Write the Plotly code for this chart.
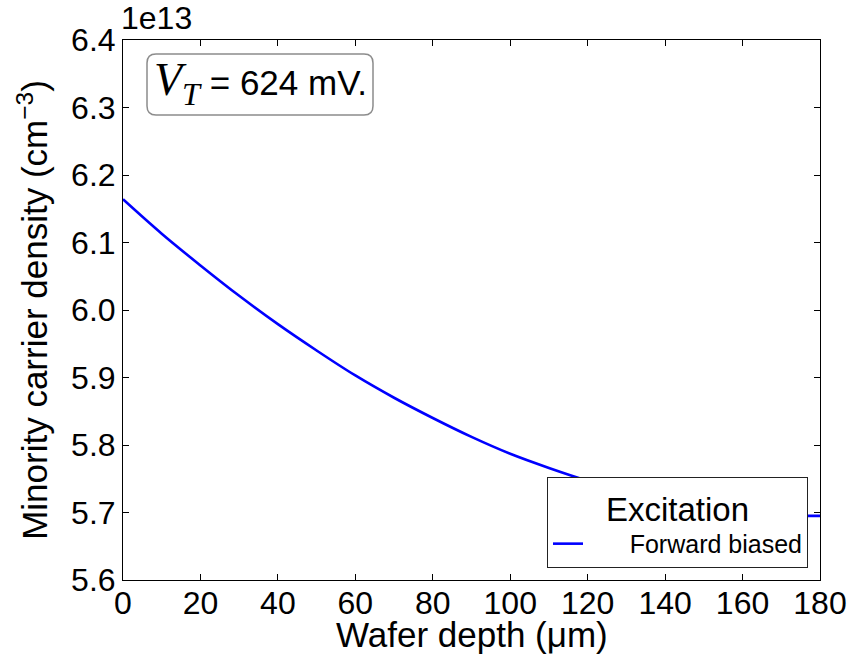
import plotly.graph_objects as go

# Data (y in units of 1e13 cm^-3)
depth_um = [0, 10, 20, 30, 40, 50, 60, 70, 80, 90, 100, 110, 120, 130, 140, 150, 160, 170, 180]
density_1e13 = [6.164, 6.113, 6.066, 6.021, 5.979, 5.940, 5.903, 5.870, 5.840, 5.812,
                5.787, 5.766, 5.747, 5.731, 5.718, 5.708, 5.701, 5.696, 5.695]
series_name = "Forward biased"
legend_title = "Excitation"
x_title = "Wafer depth (μm)"
y_title = "Minority carrier density (cm<sup>−3</sup>)"
x_ticks = [0, 20, 40, 60, 80, 100, 120, 140, 160, 180]
y_ticks = [5.6, 5.7, 5.8, 5.9, 6.0, 6.1, 6.2, 6.3, 6.4]

FONT = "Liberation Sans, Arial, sans-serif"

fig = go.Figure()
fig.add_trace(go.Scatter(
    x=depth_um, y=density_1e13, mode="lines",
    name="\u00a0" * 6 + series_name,
    line=dict(color="#0000ff", width=2.6, shape="spline"),
))

W, H = 862, 661
L, R, T, B = 123, 42, 40, 81
pw, ph = W - L - R, H - T - B

def px(xp):
    return (xp - L) / pw

def py(yp):
    return (H - B - yp) / ph

# rounded box for V_T annotation
x0, x1, y0, y1 = px(147), px(373), py(115), py(54)
rx, ry = 9 / pw, 9 / ph
path = (f"M {x0+rx},{y0} L {x1-rx},{y0} Q {x1},{y0} {x1},{y0+ry} "
        f"L {x1},{y1-ry} Q {x1},{y1} {x1-rx},{y1} L {x0+rx},{y1} "
        f"Q {x0},{y1} {x0},{y1-ry} L {x0},{y0+ry} Q {x0},{y0} {x0+rx},{y0} Z")
fig.add_shape(type="path", path=path, xref="paper", yref="paper",
              line=dict(color="#8c8c8c", width=1.5), fillcolor="white", layer="above")

fig.add_annotation(
    x=(x0 + x1) / 2, y=(y0 + y1) / 2, xref="paper", yref="paper",
    text=("<span style='font-family:Liberation Serif, DejaVu Serif, serif;font-size:46px'>"
          "<i>V</i><sub><i>T</i></sub></span> = 624 mV."),
    showarrow=False, font=dict(family=FONT, size=35, color="black"),
    xanchor="center", yanchor="middle", yshift=1,
)

fig.add_annotation(
    x=0, y=1, xref="paper", yref="paper", text="1e13", showarrow=False,
    xanchor="left", yanchor="bottom", yshift=2, xshift=-4,
    font=dict(family=FONT, size=32, color="black"),
)

# x-axis title
fig.add_annotation(
    x=0.5, y=py(634), xref="paper", yref="paper", text=x_title, showarrow=False,
    xanchor="center", yanchor="middle",
    font=dict(family=FONT, size=35, color="black"),
)

axis_common = dict(
    showline=True, linecolor="black", linewidth=1, mirror="ticks",
    ticks="inside", ticklen=6, tickwidth=1, tickcolor="black",
    showgrid=False, zeroline=False, automargin=False,
    tickfont=dict(family=FONT, size=32, color="black"),
)

fig.update_xaxes(
    range=[0, 180], tickvals=x_ticks, ticktext=[str(v) for v in x_ticks],
    ticklabelstandoff=-5,
    **axis_common,
)
fig.update_yaxes(
    range=[5.6, 6.4], tickvals=y_ticks, ticktext=[f"{v:.1f}" for v in y_ticks],
    title=dict(text=y_title, font=dict(family=FONT, size=35, color="black"), standoff=12),
    **axis_common,
)

fig.update_layout(
    width=W, height=H,
    margin=dict(l=L, r=R, t=T, b=B, pad=0),
    plot_bgcolor="white", paper_bgcolor="white",
    showlegend=True,
    legend=dict(
        title=dict(text=legend_title, font=dict(family=FONT, size=33, color="black"), side="top center"),
        font=dict(family=FONT, size=25, color="black"),
        x=px(808), y=py(568), xanchor="right", yanchor="bottom",
        bordercolor="#222222", borderwidth=1, bgcolor="white",
        tracegroupgap=0,
    ),
)

fig.write_html("out.html")
